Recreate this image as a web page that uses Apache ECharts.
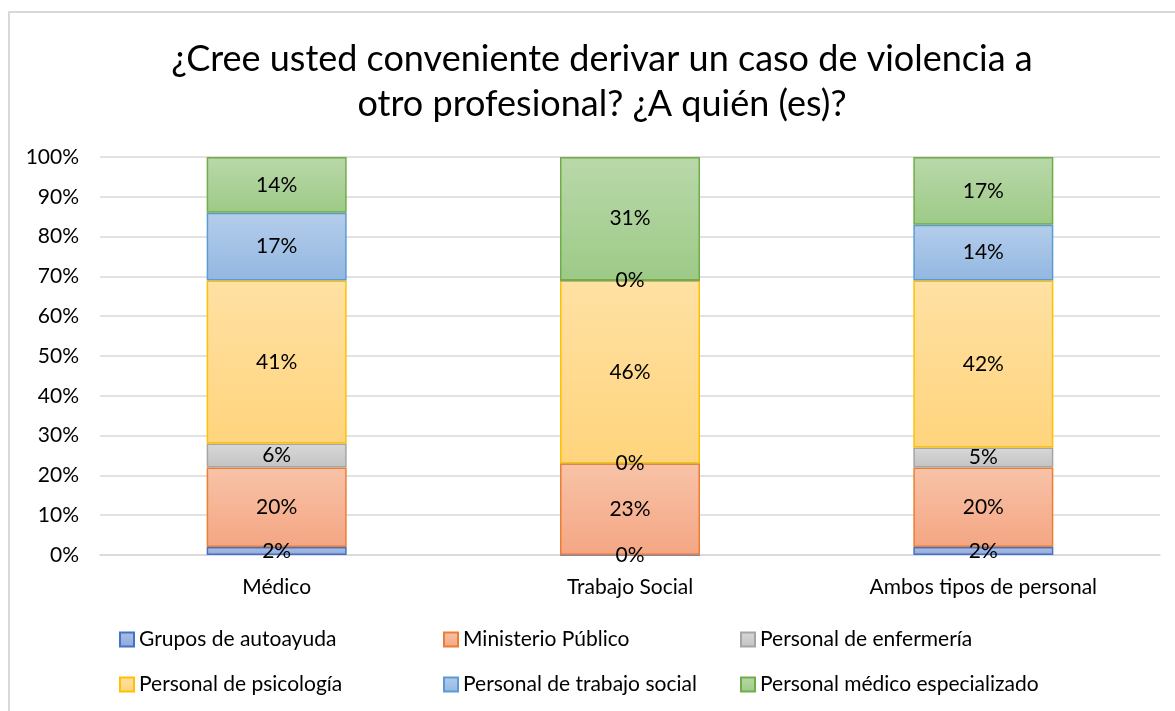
<!DOCTYPE html>
<html>
<head>
<meta charset="utf-8">
<script src="https://cdn.jsdelivr.net/npm/echarts@6/dist/echarts.min.js"></script>
<style>
  html, body { margin: 0; padding: 0; background: #fff; }
  #frame { position: absolute; left: 8px; top: 11px; width: 1200px; height: 760px;
           border-left: 2px solid #d9d9d9; border-top: 2px solid #d9d9d9; }
  #main { position: absolute; left: 0; top: 0; width: 1175px; height: 711px; }
</style>
</head>
<body>
<div id="frame"></div>
<div id="main"></div>
<script>
// categorias y valores (%)
const categories = ['Médico', 'Trabajo Social', 'Ambos tipos de personal'];
const seriesNames = ['Grupos de autoayuda', 'Ministerio Público', 'Personal de enfermería',
  'Personal de psicología', 'Personal de trabajo social', 'Personal médico especializado'];
const grupos = [2, 0, 2];
const ministerio = [20, 23, 20];
const enfermeria = [6, 0, 5];
const psicologia = [41, 46, 42];
const trabajoSocial = [17, 0, 14];
const medicoEsp = [14, 31, 17];
const yTicks = [0, 10, 20, 30, 40, 50, 60, 70, 80, 90, 100];

const values = [grupos, ministerio, enfermeria, psicologia, trabajoSocial, medicoEsp];
// [top, bottom, border]
const palette = [
  ['#aebfe6', '#8ea9dc', '#4472c4'],
  ['#f8c3a8', '#f4a683', '#ed7d31'],
  ['#d8d8d8', '#c3c3c3', '#a5a5a5'],
  ['#ffe1a3', '#ffd47d', '#ffc000'],
  ['#b4cdeb', '#93b7e1', '#5b9bd5'],
  ['#b9d8aa', '#9dca87', '#70ad47']
];

const font = 'Lato, "Open Sans", sans-serif';
const chart = echarts.init(document.getElementById('main'));

const series = seriesNames.map(function (name, i) {
  return {
    name: name,
    type: 'bar',
    stack: 'total',
    barWidth: 140,
    data: values[i],
    itemStyle: {
      color: new echarts.graphic.LinearGradient(0, 0, 0, 1, [
        { offset: 0, color: palette[i][0] },
        { offset: 1, color: palette[i][1] }
      ]),
      borderColor: palette[i][2],
      borderWidth: 1.5
    },
    label: {
      show: true,
      position: 'inside',
      formatter: '{c}%',
      fontFamily: font,
      fontSize: 21,
      color: '#000'
    }
  };
});

const legendLeft = [119, 443, 740];
const legendTop = [629, 674];
const legends = seriesNames.map(function (name, i) {
  return {
    data: [name],
    left: legendLeft[i % 3],
    top: legendTop[Math.floor(i / 3)],
    padding: 0,
    itemWidth: 14,
    itemHeight: 14,
    icon: 'rect',
    textStyle: { fontFamily: font, fontSize: 21, color: '#000' }
  };
});

chart.setOption({
  animation: false,
  title: {
    text: '¿Cree usted conveniente derivar un caso de violencia a\notro profesional? ¿A quién (es)?',
    left: 597,
    top: 32,
    textAlign: 'center',
    textStyle: { fontFamily: font, fontSize: 36, fontWeight: 'normal', color: '#000', lineHeight: 45 }
  },
  legend: legends,
  grid: { left: 100, right: 15, top: 157, bottom: 156, containLabel: false },
  xAxis: {
    type: 'category',
    data: categories,
    axisLine: { show: true, lineStyle: { color: '#d9d9d9', width: 1.5 } },
    axisTick: { show: false },
    axisLabel: { fontFamily: font, fontSize: 21, color: '#000', margin: 22 }
  },
  yAxis: {
    type: 'value',
    min: yTicks[0],
    max: yTicks[yTicks.length - 1],
    interval: 10,
    axisLine: { show: false },
    axisTick: { show: false },
    splitLine: { lineStyle: { color: '#d9d9d9', width: 1.5 } },
    axisLabel: { fontFamily: font, fontSize: 21, color: '#000', margin: 21, formatter: '{value}%' }
  },
  series: series
});
</script>
</body>
</html>
